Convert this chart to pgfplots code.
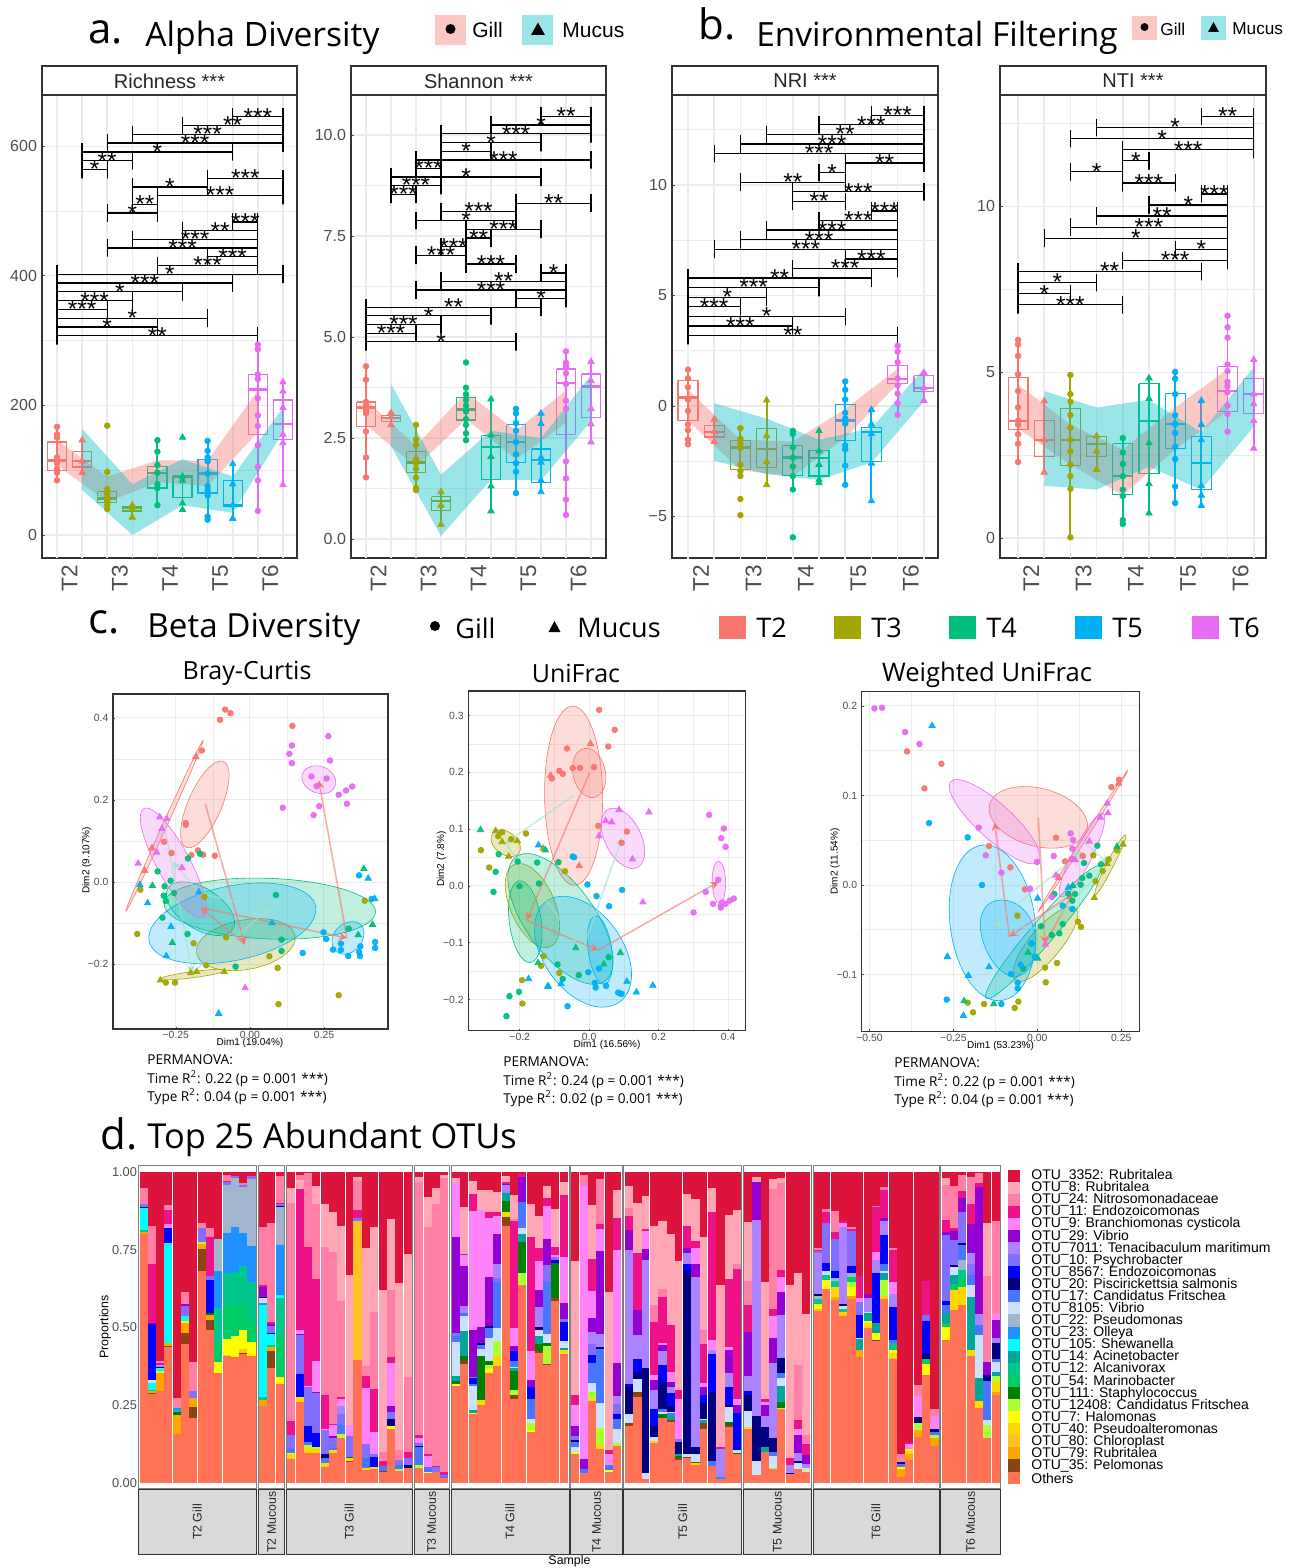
\documentclass[border=0pt]{standalone}
\usepackage{pgfplots}
\pgfplotsset{compat=1.18}
\usepackage{fontspec}
\setmainfont{Liberation Sans}
\newfontfamily\tf{Open Sans}
\definecolor{T2}{HTML}{F8766D}\definecolor{T3}{HTML}{A3A500}\definecolor{T4}{HTML}{00BF7D}\definecolor{T5}{HTML}{00B0F6}\definecolor{T6}{HTML}{E76BF3}
\definecolor{MU}{HTML}{00BFC4}\definecolor{AG}{HTML}{9FE3CE}
\definecolor{fr}{HTML}{333333}\definecolor{tg}{HTML}{4D4D4D}\definecolor{gl}{HTML}{EBEBEB}
\definecolor{ca}{HTML}{DC143C}\definecolor{cb}{HTML}{FFA7B5}\definecolor{cc}{HTML}{FF7FA6}\definecolor{cd}{HTML}{EE1289}\definecolor{ce}{HTML}{FF83FA}\definecolor{cf}{HTML}{9400D3}\definecolor{cg}{HTML}{AB82FF}\definecolor{ch}{HTML}{836FFF}\definecolor{ci}{HTML}{0000FF}\definecolor{cj}{HTML}{000080}\definecolor{ck}{HTML}{4876FF}\definecolor{cl}{HTML}{CAE1FF}\definecolor{cm}{HTML}{A2B5CD}\definecolor{cn}{HTML}{1E90FF}\definecolor{co}{HTML}{00FFFF}\definecolor{cp}{HTML}{00A69C}\definecolor{cq}{HTML}{00C78C}\definecolor{cr}{HTML}{00CD66}\definecolor{cs}{HTML}{008000}\definecolor{ct}{HTML}{ADFF2F}\definecolor{cu}{HTML}{FFFF00}\definecolor{cv}{HTML}{FFD700}\definecolor{cw}{HTML}{FFC125}\definecolor{cx}{HTML}{FFA500}\definecolor{cy}{HTML}{8B4513}\definecolor{cz}{HTML}{FF7256}
% ---------- stacked bars: per-colour segment lists
\foreach \n in {a,b,c,d,e,f,g,h,i,j,k,l,m,n,o,p,q,r,s,t,u,v,w,x,y,z}{\expandafter\gdef\csname LIST\n\endcsname{}}
\newcommand\facet[1]{\xdef\cxx{#1}}
\newcommand\BAR[1]{\pgfmathsetmacro\ccx{\cxx+4.15}\gdef\lo{0}\foreach\cn/\tp in {#1}{\expandafter\xdef\csname LIST\cn\endcsname{\csname LIST\cn\endcsname(\ccx,\lo)(\ccx,0\tp)(\ccx,nan)}\xdef\lo{0\tp}}\pgfmathsetmacro\nxx{\cxx+8.3}\xdef\cxx{\nxx}}
\facet{139.5}
\BAR{z/.80,x/.806,r/.813,o/.883,j/.886,h/.897,c/.95,a/1}
\BAR{z/.284,y/.288,x/.296,r/.30,o/.32,l/.33,j/.332,i/.51,f/.515,d/.704,c/.826,a/1}
\BAR{z/.296,x/.354,u/.358,o/.368,j/.373,g/.38,d/.385,c/.392,a/1}
\BAR{z/.438,y/.441,x/.45,o/.773,i/.82,e/.832,d/.878,c/.894,a/1}
\BAR{z/.157,x/.218,s/.228,q/.234,n/.24,c/.272,a/1}
\BAR{z/.447,y/.482,x/.513,u/.52,o/.537,h/.57,f/.575,c/.613,a/1}
\BAR{z/.208,y/.244,x/.274,h/.295,c/.387,a/1}
\BAR{z/.681,y/.752,x/.768,t/.774,h/.819,c/.836,a/1}
\BAR{z/.491,y/.524,x/.54,s/.545,i/.652,h/.665,d/.79,c/.819,a/1}
\BAR{z/.353,u/.388,r/.453,q/.561,n/.681,m/.786,a/1}
\BAR{z/.408,v/.412,u/.462,r/.572,q/.676,n/.803,m/.958,h/.967,d/.97,c/.99,a/1}
\BAR{z/.404,u/.472,r/.572,q/.679,n/.823,m/.982,h/.987,a/1}
\BAR{z/.414,y/.418,w/.432,u/.491,r/.572,q/.697,n/.803,m/.953,h/.958,c/.964,a/1}
\BAR{z/.408,u/.453,r/.524,q/.645,n/.762,m/.976,h/.987,a/1}
\facet{258.8}
\BAR{z/.248,x/.266,q/.275,o/.572,n/.58,l/.595,j/.599,f/.63,d/.636,c/.824,a/1}
\BAR{z/.369,y/.424,x/.438,q/.443,o/.479,j/.483,h/.504,f/.512,d/.518,c/.835,a/1}
\BAR{z/.319,u/.34,r/.472,q/.595,o/.604,n/.765,m/.886,j/.89,h/.896,d/.9,c/.987,a/1}
\facet{287}
\BAR{z/.076,v/.092,u/.096,k/.11,h/.153,d/.2,c/.899,b/.95,a/1}
\BAR{z/.261,v/.275,i/.35,h/.477,f/.48,e/.49,d/.945,b/.974,c/.99,a/1}
\BAR{z/.097,v/.113,t/.122,k/.132,i/.182,h/.309,e/.312,d/.76,c/.998,a/1}
\BAR{z/.097,v/.11,t/.116,i/.159,h/.288,f/.292,e/.393,d/.656,c/.897,b/.955,a/1}
\BAR{z/.052,v/.062,k/.078,j/.092,h/.17,e/.172,d/.282,c/.76,b/.897,a/1}
\BAR{z/.097,v/.105,k/.113,h/.143,f/.15,e/.186,d/.19,c/.744,b/.871,a/1}
\BAR{z/.143,t/.157,k/.186,h/.221,g/.247,e/.268,d/.275,c/.586,b/.826,a/1}
\BAR{z/.066,y/.069,v/.078,s/.083,h/.15,e/.186,b/.668,a/1}
\BAR{z/.395,w/.841,h/.851,d/.878,c/.972,b/.985,a/1}
\BAR{z/.041,v/.048,k/.078,h/.124,e/.306,d/.343,c/.376,b/.754,a/1}
\BAR{z/.043,v/.052,i/.082,h/.094,e/.164,d/.302,c/.55,b/.822,a/1}
\BAR{z/.035,y/.038,k/.054,d/.07,c/.1,b/.62,a/1}
\BAR{z/.172,u/.182,j/.204,h/.229,f/.247,e/.384,d/.406,c/.62,b/.849,a/1}
\BAR{z/.039,t/.043,k/.057,h/.073,c/.105,b/.642,a/1}
\BAR{z/.049,j/.057,h/.078,d/.1,c/.341,b/.736,a/1}
\facet{415}
\BAR{z/.049,t/.057,k/.114,j/.117,h/.129,e/.143,d/.153,c/.969,b/.985,a/1}
\BAR{z/.032,u/.036,k/.052,e/.086,d/.092,c/.822,b/.919,a/1}
\BAR{z/.035,h/.052,d/.054,c/.897,b/.949,a/1}
\BAR{z/.014,k/.021,h/.025,d/.035,c/.98,b/.99,a/1}
\facet{451.8}
\BAR{z/.311,u/.318,s/.328,p/.343,l/.454,k/.472,h/.481,f/.792,e/.964,b/.982,a/1}
\BAR{z/.382,y/.393,s/.408,p/.488,l/.536,k/.545,g/.569,f/.697,e/.733,d/.737,b/.888,a/1}
\BAR{z/.22,u/.225,p/.234,l/.311,k/.318,i/.337,h/.341,f/.491,e/.876,d/.929,b/.97,a/1}
\BAR{z/.25,v/.266,s/.409,l/.432,k/.443,j/.449,f/.502,e/.878,b/.942,a/1}
\BAR{z/.352,u/.368,t/.379,s/.393,l/.465,k/.499,j/.504,f/.663,e/.851,d/.872,b/.942,a/1}
\BAR{z/.376,v/.408,t/.457,l/.497,k/.647,h/.66,g/.703,f/.8,e/.859,d/.872,b/.935,a/1}
\BAR{z/.826,y/.856,v/.87,s/.908,p/.931,g/.958,f/.963,d/.968,b/.987,a/1}
\BAR{z/.269,y/.282,t/.298,s/.36,p/.368,l/.373,k/.393,i/.425,f/.44,e/.497,d/.843,c/.85,b/.926,a/1}
\BAR{z/.636,t/.676,s/.776,p/.8,l/.82,k/.904,f/.983,d/.995,a/1}
\BAR{z/.164,u/.169,t/.193,l/.204,k/.268,i/.309,f/.33,e/.424,d/.79,b/.897,a/1}
\BAR{z/.418,y/.423,s/.446,p/.472,l/.491,j/.5,g/.564,f/.62,e/.713,d/.757,b/.858,a/1}
\BAR{z/.379,y/.383,t/.44,s/.451,l/.48,k/.647,h/.701,f/.784,e/.891,d/.915,b/.955,a/1}
\BAR{z/.586,y/.595,s/.706,i/.716,h/.725,e/.732,d/.76,b/.88,a/1}
\BAR{z/.414,v/.427,p/.433,l/.457,i/.518,h/.527,f/.577,e/.725,d/.926,b/.967,a/1}
\facet{571}
\BAR{z/.092,u/.1,l/.116,k/.132,j/.138,h/.15,f/.182,e/.25,d/.282,b/.715,a/1}
\BAR{z/.032,k/.043,f/.077,e/.958,c/.99,a/1}
\BAR{z/.264,v/.269,t/.293,l/.322,k/.384,i/.411,h/.446,g/.486,f/.529,e/.617,d/.721,b/.894,a/1}
\BAR{z/.108,v/.121,t/.175,l/.255,k/.429,j/.437,g/.478,f/.747,e/.817,d/.833,c/.979,a/1}
\BAR{z/.035,u/.04,k/.057,e/.094,d/.105,b/.614,a/1}
\BAR{z/.119,t/.127,l/.172,k/.204,i/.221,h/.253,g/.279,f/.386,e/.749,d/.851,b/.942,a/1}
\facet{625}
\BAR{z/.183,y/.191,l/.221,j/.307,i/.318,g/.749,f/.813,d/.858,c/.884,b/.955,a/1}
\BAR{z/.277,y/.293,l/.333,j/.357,i/.398,g/.476,f/.556,d/.74,b/.899,a/1}
\BAR{z/.012,l/.03,j/.368,g/.717,f/.753,e/.81,d/.817,b/.923,a/1}
\BAR{z/.129,v/.133,l/.146,j/.182,i/.236,g/.3,f/.33,e/.347,d/.517,c/.572,b/.826,a/1}
\BAR{z/.209,s/.22,l/.229,k/.236,j/.325,i/.379,g/.424,f/.443,e/.45,d/.599,c/.623,b/.842,a/1}
\BAR{z/.196,y/.202,p/.216,k/.223,l/.229,j/.247,i/.29,g/.307,f/.324,e/.357,d/.508,b/.8,a/1}
\BAR{z/.073,y/.079,s/.085,p/.092,j/.132,h/.14,e/.269,d/.298,b/.714,a/1}
\BAR{z/.078,y/.082,l/.092,j/.681,i/.704,g/.74,f/.756,d/.826,b/.929,a/1}
\BAR{z/.057,v/.062,s/.068,l/.092,j/.116,g/.663,f/.704,e/.757,d/.779,b/.913,a/1}
\BAR{z/.173,y/.191,p/.202,l/.206,j/.255,i/.282,f/.309,e/.322,d/.446,c/.491,b/.79,a/1}
\BAR{z/.054,k/.07,j/.292,i/.414,g/.427,e/.459,d/.871,b/.947,a/1}
\BAR{z/.012,n/.018,g/.107,d/.115,b/.636,a/1}
\BAR{z/.18,y/.186,s/.196,l/.245,j/.25,i/.307,g/.352,f/.427,e/.438,d/.655,b/.862,a/1}
\BAR{z/.092,s/.097,l/.105,i/.223,f/.25,e/.268,d/.689,c/.704,b/.878,a/1}
\facet{744}
\BAR{z/.173,v/.18,l/.232,j/.282,i/.296,g/.343,f/.486,d/.572,c/.65,b/.839,a/1}
\BAR{z/.025,l/.071,j/.215,g/.845,f/.968,b/.983,a/1}
\BAR{z/.1,p/.114,j/.18,g/.215,f/.25,e/.261,d/.268,b/.646,a/1}
\BAR{z/.043,t/.049,l/.086,k/.1,j/.143,g/.384,f/.466,e/.536,d/.56,c/.946,b/.976,a/1}
\BAR{z/.236,t/.24,s/.26,p/.311,l/.337,k/.352,j/.4,g/.54,f/.614,e/.663,d/.685,c/.966,b/.98,a/1}
\BAR{z/.028,j/.032,g/.057,d/.078,b/.636,a/1}
\BAR{z/.044,l/.062,j/.07,g/.097,f/.153,e/.172,d/.202,c/.379,b/.674,a/1}
\BAR{z/.035,u/.039,l/.049,g/.06,f/.089,d/.124,c/.153,b/.543,a/1}
\facet{814}
\BAR{z/.554,w/.56,u/.575,q/.591,m/.6,j/.607,g/.738,h/.745,d/.75,c/.755,a/1}
\BAR{z/.622,u/.652,q/.668,l/.68,i/.706,h/.835,d/.871,c/.88,a/1}
\BAR{z/.588,x/.598,v/.629,q/.65,m/.658,i/.681,h/.783,d/.808,c/.873,a/1}
\BAR{z/.536,v/.55,q/.558,l/.568,j/.574,g/.822,e/.835,d/.842,a/1}
\BAR{z/.591,x/.602,u/.629,t/.647,r/.663,m/.676,i/.697,h/.81,d/.817,c/.823,a/1}
\BAR{z/.406,x/.427,p/.461,l/.465,i/.54,h/.583,e/.595,d/.666,a/1}
\BAR{z/.497,v/.515,u/.519,p/.545,l/.549,g/.593,f/.609,a/1}
\BAR{z/.457,y/.46,u/.481,p/.515,i/.674,g/.717,e/.744,d/.888,c/.892,a/1}
\BAR{z/.591,v/.602,t/.652,p/.674,l/.68,k/.703,i/.797,g/.843,f/.852,d/.942,c/.951,a/1}
\BAR{z/.398,v/.418,u/.427,q/.451,k/.459,i/.567,g/.609,e/.646,d/.749,c/.755,a/1}
\BAR{z/.019,x/.044,u/.052,k/.06,j/.068,c/.094,a/1}
\BAR{z/.073,x/.092,v/.102,u/.108,e/.125,d/.132,a/1}
\BAR{z/.148,x/.17,t/.191,j/.212,e/.279,c/.313,a/1}
\BAR{z/.347,u/.381,r/.397,j/.414,i/.52,h/.54,d/.65,a/1}
\BAR{z/.118,x/.143,t/.153,k/.164,j/.172,e/.215,c/.236,a/1}
\facet{941.7}
\BAR{z/.459,u/.5,r/.515,p/.547,k/.572,i/.585,h/.797,f/.808,d/.845,c/.958,b/.98,a/1}
\BAR{z/.556,v/.62,r/.638,p/.668,l/.693,j/.7,h/.781,f/.811,d/.819,c/.955,a/1}
\BAR{z/.572,v/.631,r/.658,q/.684,m/.717,k/.765,j/.77,h/.87,f/.915,d/.94,c/.989,a/1}
\BAR{z/.408,v/.427,p/.598,l/.636,k/.668,h/.704,g/.738,f/.833,d/.897,c/.983,a/1}
\BAR{z/.241,v/.264,p/.338,l/.475,k/.508,g/.543,f/.951,d/.966,c/.996,a/1}
\BAR{z/.143,t/.186,l/.202,k/.327,j/.347,f/.387,c/.665,b/.835,a/1}
\BAR{z/.282,x/.293,v/.325,t/.343,p/.357,l/.39,k/.398,j/.451,g/.465,f/.524,e/.543,c/.842,a/1}
\newcommand\plotc[1]{\edef\tmp{\noexpand\addplot[draw=c#1,barl] coordinates {\csname LIST#1\endcsname};}\tmp}
% ---------- panel helpers
\tikzset{st/.style={anchor=base,inner sep=0pt,yshift=-4.2pt,font=\fontsize{12.2}{12}\selectfont}}
\pgfplotsset{
 brk/.style={black,line width=.65pt,no marks},
 vg/.style={gl,line width=.8pt,no marks},
 gp/.style={mark=*,mark size=1.4pt,draw=none,mark options={draw=none}},
 mp/.style={mark=triangle*,mark size=1.8pt,draw=none,mark options={draw=none}},
 barl/.style={line width=4.15pt,line cap=butt,no marks,unbounded coords=jump},
 tp/.style={scale only axis,axis line style={draw=fr,line width=.6pt},
   xtick={1.5,3.5,5.5,7.5,9.5},xticklabels={T2,T3,T4,T5,T6},
   x tick label style={rotate=90,anchor=east,font=\fontsize{11.3}{12}\selectfont,text=tg},
   y tick label style={font=\fontsize{8}{9}\selectfont,text=tg,xshift=1pt},
   x tick style={draw=none},y tick style={draw=tg,line width=.4pt},major tick length=1.5pt,minor tick length=0pt,
   xtick pos=bottom,ytick pos=left,ymajorgrids=true,yminorgrids=true,
   major grid style={gl,line width=.6pt},minor grid style={gl,line width=.3pt},
   height=231.5pt},
 pc/.style={scale only axis,axis line style={draw=fr,line width=.6pt},
   x tick label style={font=\fontsize{5.2}{6}\selectfont,text=tg,yshift=2.2pt},
   y tick label style={font=\fontsize{5.2}{6}\selectfont,text=tg,xshift=1.2pt},
   tick style={draw=tg,line width=.3pt},major tick length=1pt,minor tick length=0pt,
   xtick pos=bottom,ytick pos=left,grid=both,
   major grid style={gl,line width=.5pt},minor grid style={gl,line width=.3pt},
   minor tick num=1},
 pcl/.style n args={4}{every axis x label/.style={at={(axis description cs:#1,#2)},anchor=center,font=\fontsize{5}{6}\selectfont},
   every axis y label/.style={at={(axis description cs:#3,#4)},rotate=90,anchor=center,font=\fontsize{5}{6}\selectfont}},
}
\newcommand\vgrid{\pgfplotsinvokeforeach{1,...,10}{\addplot[vg] coordinates {(##1,3000)(##1,-2000)};}}
\newcommand\br[4]{\pgfmathsetmacro\ya{#3-23}\pgfmathsetmacro\yb{#3+23}\edef\tmp{\noexpand\addplot[brk] coordinates {(#1,\ya)(#1,\yb)(#1,#3)(#2,#3)(#2,\yb)(#2,\ya)}}\tmp node[pos=0.5,st]{#4};}
% box: p colour q3 med q1 whiskerTop whiskerBottom (image-read levels, converted by the axis y filter)
\newcommand\bx[7]{\pgfmathsetmacro\xl{#1-.38}\pgfmathsetmacro\xr{#1+.38}%
 \edef\tmp{\noexpand\addplot[#2,line width=.95pt,no marks] coordinates {(#1,#6)(#1,#7)};}\tmp
 \edef\tmp{\noexpand\addplot[#2,line width=.6pt,no marks] coordinates {(\xl,#3)(\xr,#3)(\xr,#5)(\xl,#5)(\xl,#3)};}\tmp
 \edef\tmp{\noexpand\addplot[#2,line width=1.2pt,no marks] coordinates {(\xl,#4)(\xr,#4)};}\tmp}
\newcommand\vp[4]{\gdef\cl{}\foreach \v in {#4}{\xdef\cl{\cl(#1,\v)}}\edef\tmp{\noexpand\addplot[only marks,#3,color=#2] coordinates {\cl};}\tmp}
\newcommand\rib[2]{\addplot[draw=none,fill=#1,fill opacity=.4,no marks] coordinates {#2} --cycle;}
\newcommand\el[2]{\addplot[fill=#1,draw=#1,fill opacity=.25,line width=.3pt,no marks,smooth cycle,tension=1] coordinates {#2};}
\newcommand\ar[5]{\addplot[#1,->,>=stealth,line width=.8pt,draw opacity=.6,no marks] coordinates {(#2,#3)(#4,#5)};}
\newcommand\ppts[3]{\addplot[only marks,#2,color=#1,mark options={draw=none,fill opacity=.95}] coordinates {#3};}
\newcommand\tfs[2]{\fontsize{#1}{#2}\selectfont}
\begin{document}
\begin{tikzpicture}[x=0.5pt,y=-0.5pt]
\path[use as bounding box] (0,0) rectangle (1295,1568);
% ================= RICHNESS
\begin{axis}[tp,at={(21pt,-279pt)},anchor=south west,width=127.5pt,xmin=.402,xmax=10.56,ymin=-35.5,ymax=679,
 ytick={0,200,400,600},yticklabels={0,200,400,600},minor ytick={100,300,500},y filter/.expression={(1398-y)/1.695}]
\vgrid
\br{8}{10}{304}{***}\br{6}{10}{327}{**}\br{4}{10}{350}{***}\br{3}{10}{373}{***}\br{2}{8}{396}{*}\br{2}{4}{419}{**}\br{2}{3}{442}{*}
\br{7}{10}{465}{***}\br{4}{7}{488}{*}\br{5}{10}{510}{***}\br{4}{5}{533}{**}\br{3}{5}{556}{*}
\br{8}{9}{579}{***}\br{6}{9}{602}{**}\br{4}{9}{625}{***}\br{3}{9}{647}{***}\br{7}{9}{670}{***}\br{5}{9}{693}{***}
\br{1}{10}{716}{*}\br{1}{8}{739}{***}\br{1}{6}{762}{*}\br{1}{4}{785}{***}\br{1}{3}{808}{***}\br{1}{7}{831}{*}\br{1}{5}{854}{*}\br{1}{9}{877}{**}
\vp{1}{T2}{gp}{1115,1135,1143,1195,1203,1210,1225,1235,1255}\vp{2}{T2}{mp}{1150,1235,1205}
\vp{3}{T3}{gp}{1112,1233,1278,1290,1300,1310,1320,1330}\vp{4}{T3}{mp}{1320,1352,1330}
\vp{5}{T4}{gp}{1150,1180,1215,1235,1265,1275,1320}\vp{6}{T4}{mp}{1143,1255,1245,1315,1332}
\vp{7}{T5}{gp}{1152,1178,1195,1205,1238,1270,1280,1295,1350,1358}\vp{8}{T5}{mp}{1212,1265,1320,1355}
\vp{9}{T6}{gp}{900,912,978,990,1040,1085,1113,1163,1220,1255,1335}\vp{10}{T6}{mp}{998,1022,1065,1135,1157,1267}
\bx{1}{T2}{1155}{1203}{1230}{1115}{1260}\bx{2}{T2}{1180}{1205}{1220}{1150}{1235}
\bx{3}{T3}{1285}{1303}{1313}{1275}{1332}\bx{4}{T3}{1323}{1328}{1335}{1318}{1352}
\bx{5}{T4}{1218}{1236}{1275}{1150}{1322}\bx{6}{T4}{1243}{1247}{1300}{1243}{1332}
\bx{7}{T5}{1200}{1237}{1288}{1152}{1360}\bx{8}{T5}{1255}{1320}{1323}{1210}{1355}
\bx{9}{T6}{978}{1017}{1136}{900}{1335}\bx{10}{T6}{1045}{1108}{1148}{998}{1267}
\rib{T2}{(1,1150)(3,1245)(5,1203)(7,1203)(9,1020)(9,1130)(7,1270)(5,1260)(3,1312)(1,1215)}
\rib{MU}{(2,1120)(4,1265)(6,1200)(8,1245)(10,1065)(10,1130)(8,1340)(6,1320)(4,1398)(2,1280)}
\end{axis}
% ================= SHANNON
\begin{axis}[tp,at={(175.5pt,-279pt)},anchor=south west,width=127.5pt,xmin=.4,xmax=10.6,ymin=-.47,ymax=10.99,
 ytick={0,2.5,5,7.5,10},yticklabels={0.0,2.5,5.0,7.5,10.0},minor ytick={1.25,3.75,6.25,8.75},y filter/.expression={(1408-y)/105.5}]
\vgrid
\br{8}{10}{304}{**}\br{6}{10}{327}{*}\br{4}{10}{350}{***}\br{4}{8}{373}{*}\br{4}{6}{396}{*}\br{3}{10}{418}{***}\br{3}{4}{440}{***}\br{2}{8}{463}{*}\br{2}{4}{485}{***}\br{2}{3}{508}{***}
\br{7}{10}{531}{**}\br{4}{7}{553}{***}\br{3}{7}{576}{*}\br{5}{8}{599}{***}\br{5}{6}{622}{**}\br{4}{5}{645}{***}\br{3}{5}{667}{***}\br{5}{7}{690}{***}
\br{8}{9}{713}{*}\br{4}{9}{735}{**}\br{3}{9}{758}{***}\br{7}{9}{780}{*}\br{1}{8}{803}{**}\br{1}{6}{825}{*}\br{1}{4}{848}{***}\br{1}{3}{871}{***}\br{1}{7}{893}{*}
\vp{1}{T2}{gp}{957,992,1050,1060,1072,1080,1127,1195,1247}\vp{2}{T2}{mp}{1078,1090,1110}
\vp{3}{T3}{gp}{1110,1148,1162,1200,1210,1225,1248,1275,1280}\vp{4}{T3}{mp}{1285,1320,1370}
\vp{5}{T4}{gp}{947,1013,1030,1045,1060,1075,1095,1110,1132,1150}\vp{6}{T4}{mp}{1043,1137,1193,1270,1335}
\vp{7}{T5}{gp}{1068,1080,1105,1125,1155,1187,1210,1232,1288}\vp{8}{T5}{mp}{1080,1107,1195,1208,1255,1285}
\vp{9}{T6}{gp}{918,948,958,975,1003,1047,1068,1205,1250,1305,1345}\vp{10}{T6}{mp}{945,995,1068,1108,1155}
\bx{1}{T2}{1050}{1065}{1115}{957}{1247}\bx{2}{T2}{1085}{1092}{1102}{1075}{1110}
\bx{3}{T3}{1180}{1208}{1234}{1110}{1280}\bx{4}{T3}{1297}{1308}{1333}{1285}{1370}
\bx{5}{T4}{1038}{1070}{1097}{1013}{1150}\bx{6}{T4}{1138}{1167}{1253}{1043}{1335}
\bx{7}{T5}{1110}{1155}{1208}{1068}{1288}\bx{8}{T5}{1173}{1201}{1261}{1080}{1285}
\bx{9}{T6}{964}{1000}{1135}{918}{1345}\bx{10}{T6}{977}{1010}{1090}{945}{1155}
\rib{T2}{(1,1045)(3,1165)(5,1025)(7,1125)(9,1020)(9,1105)(7,1200)(5,1095)(3,1220)(1,1110)}
\rib{MU}{(2,1003)(4,1240)(6,1125)(8,1145)(10,980)(10,1100)(8,1255)(6,1253)(4,1400)(2,1165)}
\end{axis}
% ================= NRI
\begin{axis}[tp,at={(336pt,-279pt)},anchor=south west,width=133pt,xmin=.39,xmax=10.54,ymin=-6.88,ymax=14.07,
 ytick={-5,0,5,10},yticklabels={−5,0,5,10},minor ytick={-2.5,2.5,7.5,12.5},y filter/.expression={(1062-y)/57.7}]
\vgrid
\br{8}{10}{303}{***}\br{6}{10}{328}{***}\br{4}{10}{353}{**}\br{3}{10}{378}{***}\br{2}{10}{403}{***}\br{7}{10}{428}{**}\br{6}{7}{453}{*}\br{3}{7}{478}{**}\br{5}{10}{503}{***}\br{5}{7}{528}{**}
\br{8}{9}{553}{***}\br{6}{9}{578}{***}\br{4}{9}{603}{***}\br{3}{9}{628}{***}\br{2}{9}{653}{***}\br{7}{9}{678}{***}\br{5}{9}{703}{***}
\br{1}{8}{728}{**}\br{1}{6}{753}{***}\br{1}{4}{778}{*}\br{1}{3}{803}{***}\br{1}{7}{828}{*}\br{1}{5}{853}{***}\br{1}{9}{878}{**}
\vp{1}{T2}{gp}{967,990,1013,1045,1075,1110,1125,1150,1162}\vp{2}{T2}{mp}{1097,1155,1130}
\vp{3}{T3}{gp}{1120,1148,1160,1172,1215,1232,1245,1305,1347}\vp{4}{T3}{mp}{1047,1140,1208,1268}
\vp{5}{T4}{gp}{1127,1135,1170,1197,1220,1245,1280,1405}\vp{6}{T4}{mp}{1127,1180,1215,1255,1263}
\vp{7}{T5}{gp}{998,1020,1045,1080,1095,1108,1165,1175,1218,1268}\vp{8}{T5}{mp}{1072,1110,1135,1212,1310}
\vp{9}{T6}{gp}{905,920,948,990,1008,1030,1055,1085}\vp{10}{T6}{mp}{975,1015,1048}
\bx{1}{T2}{995}{1040}{1100}{967}{1162}\bx{2}{T2}{1113}{1130}{1143}{1095}{1155}
\bx{3}{T3}{1152}{1170}{1228}{1120}{1245}\bx{4}{T3}{1120}{1175}{1222}{1047}{1268}
\bx{5}{T4}{1166}{1197}{1243}{1127}{1280}\bx{6}{T4}{1178}{1198}{1245}{1127}{1263}
\bx{7}{T5}{1058}{1100}{1152}{998}{1268}\bx{8}{T5}{1118}{1130}{1207}{1072}{1310}
\bx{9}{T6}{956}{992}{1004}{905}{1085}\bx{10}{T6}{983}{1015}{1025}{970}{1048}
\rib{T2}{(1,1020)(3,1150)(5,1155)(7,1070)(9,965)(9,1005)(7,1145)(5,1245)(3,1230)(1,1100)}
\rib{MU}{(2,1055)(4,1095)(6,1150)(8,1120)(10,965)(10,1050)(8,1210)(6,1255)(4,1240)(2,1205)}
\end{axis}
% ================= NTI
\begin{axis}[tp,at={(500pt,-279pt)},anchor=south west,width=133pt,xmin=.31,xmax=10.47,ymin=-.6,ymax=13.35,
 ytick={0,5,10},yticklabels={0,5,10},minor ytick={2.5,7.5,12.5},y filter/.expression={(1407-y)/86.9}]
\vgrid
\br{8}{10}{303}{**}\br{4}{10}{332}{*}\br{3}{10}{361}{*}\br{5}{10}{390}{***}\br{5}{6}{419}{*}\br{3}{5}{448}{*}\br{5}{7}{477}{***}\br{8}{9}{506}{***}\br{6}{9}{535}{*}
\br{4}{9}{564}{**}\br{3}{9}{593}{***}\br{2}{9}{622}{*}\br{7}{9}{651}{*}\br{5}{9}{680}{***}\br{1}{8}{709}{**}\br{1}{4}{738}{*}\br{1}{3}{767}{*}\br{1}{5}{796}{***}
\vp{1}{T2}{gp}{888,900,930,978,1022,1065,1100,1110,1135,1160,1208}\vp{2}{T2}{mp}{1048,1150,1235}
\vp{3}{T3}{gp}{980,1030,1050,1085,1118,1150,1180,1215,1245,1278,1405}\vp{4}{T3}{mp}{1140,1180,1228}
\vp{5}{T4}{gp}{1145,1183,1213,1245,1280,1297,1360,1370}\vp{6}{T4}{mp}{988,1042,1158,1265,1342}
\vp{7}{T5}{gp}{972,990,1030,1085,1108,1132,1168,1200,1272,1315}\vp{8}{T5}{mp}{1047,1110,1150,1270,1295,1322}
\vp{9}{T6}{gp}{825,855,882,952,970,998,1010,1025,1060,1082,1128}\vp{10}{T6}{mp}{940,1030,1056,1100,1172}
\bx{1}{T2}{987}{1100}{1122}{888}{1208}\bx{2}{T2}{1100}{1150}{1193}{1048}{1235}
\bx{3}{T3}{1067}{1150}{1217}{980}{1405}\bx{4}{T3}{1140}{1160}{1194}{1138}{1228}
\bx{5}{T4}{1160}{1245}{1292}{1145}{1370}\bx{6}{T4}{1003}{1100}{1238}{988}{1342}
\bx{7}{T5}{1028}{1108}{1172}{972}{1315}\bx{8}{T5}{1140}{1210}{1280}{1047}{1322}
\bx{9}{T6}{958}{1022}{1075}{825}{1132}\bx{10}{T6}{990}{1030}{1080}{938}{1172}
\rib{T2}{(1,1005)(3,1110)(5,1175)(7,1065)(9,965)(9,1075)(7,1175)(5,1295)(3,1215)(1,1120)}
\rib{MU}{(2,1022)(4,1065)(6,1045)(8,1130)(10,960)(10,1115)(8,1280)(6,1220)(4,1280)(2,1270)}
\end{axis}
% strips
\foreach \a/\b/\t in {42/297/{Richness ***},351/606/{Shannon ***},672/938/{NRI ***},1000/1266/{NTI ***}}{
 \draw[fr,line width=.6pt,fill=white] (\a,66) rectangle (\b,95);
 \node[text=black!85,font=\tfs{10}{11}] at ({(\a+\b)/2},81) {\t};}
% ================= BRAY-CURTIS
\begin{axis}[pc,pcl={.498}{-.042}{-.095}{.504},at={(56.5pt,-514.5pt)},anchor=south west,width=137.5pt,height=167.5pt,xmin=-.462,xmax=.466,ymin=-.358,ymax=.458,
 x filter/.expression={(x-393)/684},y filter/.expression={(725-y)/1233},
 xtick={-.25,0,.25},xticklabels={−0.25,0.00,0.25},ytick={-.2,0,.2,.4},yticklabels={−0.2,0.0,0.2,0.4},
 xlabel={Dim1 (19.04\%)},ylabel={Dim2 (9.107\%)}]
\ppts{T2}{gp}{(336,207)(348,218)(324,238)(491,256)(282,330)(245,548)(245,553)(195,604)(212,638)(258,644)(273,630)(285,643)(312,646)}
\ppts{T2}{mp}{(268,349)(167,623)(150,691)}
\ppts{T3}{gp}{(140,748)(133,881)(263,909)(292,975)(338,891)(438,948)(457,983)(220,1027)(199,1027)(598,1065)(459,1092)(658,781)(288,769)}
\ppts{T3}{mp}{(186,1020)(256,998)(270,994)(334,995)}
\ppts{T4}{gp}{(250,654)(180,693)(210,721)(196,738)(194,766)(199,782)(218,758)(191,832)(249,881)(360,979)(466,898)(466,932)(621,865)(453,764)(278,640)}
\ppts{T4}{mp}{(168,736)(656,685)(643,884)(676,853)(214,907)}
\ppts{T5}{gp}{(645,705)(674,776)(563,876)(569,896)(603,910)(585,928)(603,929)(620,947)(645,935)(647,947)(648,918)(682,905)(682,923)(515,938)}
\ppts{T5}{mp}{(139,733)(157,788)(211,859)(200,947)(321,1120)(666,714)(681,775)(444,848)(275,755)}
\ppts{T6}{gp}{(490,315)(484,340)(490,368)(574,287)(578,360)(535,408)(570,414)(547,437)(629,438)(615,450)(598,463)(617,490)(553,497)(540,524)(469,502)}
\ppts{T6}{mp}{(185,530)(201,535)(190,565)(178,636)(135,669)(236,682)(382,1043)}
\el{T2}{(330,362)(327,504)(248,622)(251,480)}
\el{T2}{(285,300)(201,558)(107,812)(191,554)}
\el{T3}{(270,940)(372,840)(497,885)(395,986)}
\el{T3}{(187,1016)(260,994)(337,990)(264,1012)}
\el{T4}{(195,790)(440,714)(683,815)(436,896)}
\el{T4}{(210,735)(317,765)(348,875)(241,845)}
\el{T5}{(160,885)(364,733)(545,815)(340,965)}
\el{T5}{(590,930)(597,862)(650,855)(640,925)}
\el{T6}{(530,380)(584,400)(575,456)(520,435)}
\el{T6}{(150,503)(253,653)(283,833)(179,683)}
\ar{T2}{290}{490}{381}{912}\ar{T2}{381}{912}{280}{802}\ar{T2}{280}{802}{617}{893}\ar{T2}{617}{893}{552}{420}
\ar{AG}{196}{560}{260}{998}\ar{AG}{260}{998}{438}{805}\ar{AG}{438}{805}{278}{760}\ar{AG}{278}{760}{215}{665}
\end{axis}
% ================= UNIFRAC
\begin{axis}[pc,pcl={.5}{-.042}{-.0965}{.505},at={(234.15pt,-515.35pt)},anchor=south west,width=138.75pt,height=169.85pt,xmin=-.348,xmax=.451,ymin=-.255,ymax=.343,
 x filter/.expression={(x-1176)/802},y filter/.expression={(737-y)/1704},
 xtick={-.2,0,.2,.4},xticklabels={−0.2,0.0,0.2,0.4},ytick={-.2,-.1,0,.1,.2,.3},yticklabels={−0.2,−0.1,0.0,0.1,0.2,0.3},
 xlabel={Dim1 (16.56\%)},ylabel={Dim2 (7.8\%)}]
\ppts{T2}{gp}{(1199,209)(1235,269)(1220,319)(1125,325)(1138,384)(1155,383)(1187,381)(1107,392)(1115,401)(1090,415)(1197,557)(1263,574)(1251,608)}
\ppts{T2}{mp}{(1179,311)(1087,406)(1153,677)}
\ppts{T3}{gp}{(926,630)(966,588)(975,576)(1030,580)(996,597)(945,682)(1120,693)(1071,948)(1065,977)(1107,998)(1021,1020)(1022,1090)}
\ppts{T3}{mp}{(960,572)(975,605)(1010,602)(990,649)(1070,625)}
\ppts{T4}{gp}{(967,642)(960,695)(955,755)(1011,664)(1015,738)(1060,730)(1056,667)(1105,666)(1103,973)(1115,1016)(1152,1005)(1221,951)(992,1068)(1014,1055)(985,1128)}
\ppts{T4}{mp}{(925,569)(1075,630)(1145,923)(1248,938)(1210,972)(1058,968)(1081,1040)}
\ppts{T5}{gp}{(1172,733)(1193,768)(1252,749)(1222,798)(1138,649)(1141,651)(1199,985)(1174,996)(1189,1028)(1191,1042)(1215,1037)(1243,1057)(1251,1061)(1248,1060)(1126,1098)}
\ppts{T5}{mp}{(1059,615)(1036,1016)(1111,1031)(1263,1024)(1323,1036)(1285,1056)(1081,1037)}
\ppts{T6}{gp}{(1453,524)(1487,565)(1481,594)(1491,620)(1474,719)(1445,755)(1417,817)(1462,791)(1480,802)(1483,787)(1491,791)(1501,781)(1510,775)(1480,798)}
\ppts{T6}{mp}{(1245,509)(1314,516)(1214,542)(1228,546)(1199,587)(1276,657)(1300,786)}
\el{T2}{(1139,198)(1207,470)(1141,735)(1073,462)}
\el{T2}{(1165,325)(1213,390)(1187,472)(1139,406)}
\el{T3}{(1010,670)(1097,785)(1080,922)(993,805)}
\el{T3}{(965,570)(1011,600)(1003,648)(955,618)}
\el{T4}{(1005,652)(1170,770)(1215,1020)(1048,905)}
\el{T4}{(1015,722)(1065,840)(1040,967)(992,850)}
\el{T5}{(1095,772)(1252,900)(1228,1097)(1072,970)}
\el{T5}{(1190,828)(1228,925)(1212,1032)(1174,935)}
\el{T6}{(1475,663)(1491,725)(1477,790)(1460,725)}
\el{T6}{(1225,505)(1295,580)(1283,684)(1213,608)}
\ar{T2}{1177}{398}{1032}{840}\ar{T2}{1032}{840}{1197}{930}\ar{T2}{1197}{930}{1475}{725}
\ar{AG}{1140}{466}{983}{609}\ar{AG}{983}{609}{1160}{932}\ar{AG}{1160}{932}{1252}{592}
\end{axis}
% ================= WEIGHTED UNIFRAC
\begin{axis}[pc,pcl={.5}{-.044}{-.096}{.5},at={(430.85pt,-515.65pt)},anchor=south west,width=138.8pt,height=169.8pt,xmin=-.523,xmax=.3036,ymin=-.1634,ymax=.2159,
 x filter/.expression={(x-772)/1008},y filter/.expression={(735-y)/2687},
 xtick={-.5,-.25,0,.25},xticklabels={−0.50,−0.25,0.00,0.25},ytick={-.1,0,.1,.2},yticklabels={−0.1,0.0,0.1,0.2},
 xlabel={Dim1 (53.23\%)},ylabel={Dim2 (11.54\%)}]
\ppts{T2}{gp}{(381,334)(484,371)(433,445)(1017,419)(994,441)(828,593)(908,648)(855,664)(875,657)(627,618)(691,682)(735,748)}
\ppts{T2}{mp}{(1016,430)(836,713)}
\ppts{T3}{gp}{(940,646)(986,658)(968,693)(947,724)(1011,631)(894,845)(903,861)(831,969)(795,983)(797,1027)(563,1088)(612,1092)(579,1117)(704,1104)(715,1085)(712,827)}
\ppts{T3}{mp}{(981,671)(1029,613)(943,773)}
\ppts{T4}{gp}{(952,617)(912,669)(963,673)(928,707)(907,714)(902,734)(823,762)(865,761)(885,762)(877,782)(848,852)(838,880)(815,885)(783,859)(754,911)(764,950)(730,986)}
\ppts{T4}{mp}{(1011,620)(878,737)(744,937)(773,955)(552,1083)(641,1092)}
\ppts{T5}{gp}{(447,549)(563,592)(606,735)(848,797)(877,807)(755,910)(765,950)(722,974)(693,1002)(713,1028)(713,1045)(500,1079)(664,1092)}
\ppts{T5}{mp}{(456,257)(502,950)(565,1007)(627,981)(773,775)(865,742)(550,1127)}
\ppts{T6}{gp}{(283,205)(306,203)(375,276)(418,312)(596,563)(617,646)(771,666)(664,698)(750,746)(816,771)(821,648)(872,580)(879,600)(877,626)(875,658)}
\ppts{T6}{mp}{(982,490)(984,519)(961,532)(928,604)(886,660)(828,706)(796,913)}
\el{T2}{(628,515)(760,441)(922,548)(790,623)}
\el{T2}{(775,815)(905,600)(1043,392)(913,606)}
\el{T3}{(705,1020)(760,880)(888,805)(828,945)}
\el{T3}{(945,765)(982,666)(1037,585)(1000,678)}
\el{T4}{(618,1075)(765,850)(962,678)(815,900)}
\el{T5}{(610,615)(765,840)(660,1082)(510,855)}
\el{T5}{(665,780)(765,880)(705,1010)(603,880)}
\el{T6}{(512,425)(680,505)(775,665)(610,585)}
\el{T6}{(970,520)(930,665)(842,770)(880,635)}
\ar{T2}{775}{532}{795}{912}\ar{T2}{795}{912}{877}{762}\ar{T2}{877}{762}{688}{890}\ar{T2}{688}{890}{644}{548}
\ar{AG}{910}{605}{985}{670}\ar{AG}{985}{670}{795}{868}\ar{AG}{795}{868}{640}{850}\ar{AG}{640}{850}{907}{635}
\end{axis}
% ================= STACKED BARS
\begin{axis}[scale only axis,at={(69pt,-744.15pt)},anchor=south west,width=431.5pt,height=161.5pt,clip=false,
 xmin=138,xmax=1001,ymin=-.018,ymax=1.0216,axis line style={draw=none},xtick=\empty,
 ytick={0,.25,.5,.75,1},yticklabels={0.00,0.25,0.50,0.75,1.00},ytick pos=left,
 y tick label style={font=\tfs{6.4}{7},text=tg,xshift=3pt},tick style={draw=none},
 ylabel={Proportions},xlabel={Sample},
 every axis x label/.style={at={(axis description cs:.5,-.225)},anchor=center,font=\tfs{6.2}{7}},every axis y label/.style={at={(axis description cs:-.038,.5)},rotate=90,anchor=center,font=\tfs{6.2}{7}}]
\plotc{a}\plotc{b}\plotc{c}\plotc{d}\plotc{e}\plotc{f}\plotc{g}\plotc{h}\plotc{i}\plotc{j}\plotc{k}\plotc{l}\plotc{m}\plotc{n}\plotc{o}\plotc{p}\plotc{q}\plotc{r}\plotc{s}\plotc{t}\plotc{u}\plotc{v}\plotc{w}\plotc{x}\plotc{y}\plotc{z}
\addplot[white,line width=.5pt,no marks,unbounded coords=jump] coordinates {(172.3,0)(172.3,1)(172.3,nan)(197.3,0)(197.3,1)(197.3,nan)(222.7,0)(222.7,1)(222.7,nan)(275.3,0)(275.3,1)(275.3,nan)(295.3,0)(295.3,1)(295.3,nan)(320.3,0)(320.3,1)(320.3,nan)(345.3,0)(345.3,1)(345.3,nan)(378.7,0)(378.7,1)(378.7,nan)(403.7,0)(403.7,1)(403.7,nan)(423.3,0)(423.3,1)(423.3,nan)(468.3,0)(468.3,1)(468.3,nan)(501.7,0)(501.7,1)(501.7,nan)(526.3,0)(526.3,1)(526.3,nan)(559.3,0)(559.3,1)(559.3,nan)(579.3,0)(579.3,1)(579.3,nan)(604.7,0)(604.7,1)(604.7,nan)(649.3,0)(649.3,1)(649.3,nan)(682.3,0)(682.3,1)(682.3,nan)(707.3,0)(707.3,1)(707.3,nan)(785.3,0)(785.3,1)(785.3,nan)(830.3,0)(830.3,1)(830.3,nan)(863.3,0)(863.3,1)(863.3,nan)(888.3,0)(888.3,1)(888.3,nan)(913.3,0)(913.3,1)(913.3,nan)(966.3,0)(966.3,1)(966.3,nan)(991.7,0)(991.7,1)(991.7,nan)};
\foreach \xa/\xb in {138.3/256.3,258/284.7,286.3/412.7,414.3/449.3,451/569,570.3/622,623.3/741.7,743.3/811,813/939.3,940.7/1000.7}{
 \edef\tmp{\noexpand\addplot[draw=gray,line width=.4pt,no marks] coordinates {(\xa,-.018)(\xb,-.018)(\xb,1.0216)(\xa,1.0216)(\xa,-.018)};}\tmp
 \edef\tmp{\noexpand\addplot[draw=fr,line width=.5pt,fill=black!15,no marks] coordinates {(\xa,-.0207)(\xb,-.0207)(\xb,-.2295)(\xa,-.2295)(\xa,-.0207)};}\tmp}
\end{axis}
\foreach \x/\t in {197.3/T2 Gill,271.7/T2 Mucous,349.3/T3 Gill,431.7/T3 Mucous,510/T4 Gill,596.7/T4 Mucous,682.7/T5 Gill,777.3/T5 Mucous,876/T6 Gill,970.7/T6 Mucous}
 \node[rotate=90,font=\tfs{6.2}{7},text=black!85] at (\x,1522) {\t};
% bar legend
\foreach \cn/\tx [count=\i from 0] in {a/OTU\_3352: Rubritalea,b/OTU\_8: Rubritalea,c/OTU\_24: Nitrosomonadaceae,d/OTU\_11: Endozoicomonas,e/OTU\_9: Branchiomonas cysticola,f/OTU\_29: Vibrio,g/OTU\_7011: Tenacibaculum maritimum,h/OTU\_10: Psychrobacter,i/OTU\_8567: Endozoicomonas,j/OTU\_20: Piscirickettsia salmonis,k/OTU\_17: Candidatus Fritschea,l/OTU\_8105: Vibrio,m/OTU\_22: Pseudomonas,n/OTU\_23: Olleya,o/OTU\_105: Shewanella,p/OTU\_14: Acinetobacter,q/OTU\_12: Alcanivorax,r/OTU\_54: Marinobacter,s/OTU\_111: Staphylococcus,t/OTU\_12408: Candidatus Fritschea,u/OTU\_7: Halomonas,v/OTU\_40: Pseudoalteromonas,w/OTU\_80: Chloroplast,x/OTU\_79: Rubritalea,y/OTU\_35: Pelomonas,z/Others}{
 \fill[fill=c\cn] (1008,{1169.5+12.08*\i}) rectangle +(12,12.08);
 \node[anchor=west,inner sep=0pt,font=\tfs{7}{8}] at (1031,{1176+12.08*\i}) {\tx};}
% ================= TITLES AND TOP LEGENDS
\node[anchor=west,inner sep=0,font=\tf\tfs{21}{22}] at (88,32) {a.};
\node[anchor=west,inner sep=0,font=\tf\tfs{16.8}{18}] at (145,37.5) {Alpha Diversity};
\node[anchor=west,inner sep=0,font=\tf\tfs{21}{22}] at (698,24) {b.};
\node[anchor=west,inner sep=0,font=\tf\tfs{16.7}{18}] at (756,37.5) {Environmental Filtering};
\node[anchor=west,inner sep=0,font=\tf\tfs{21}{22}] at (88,622) {c.};
\node[anchor=west,inner sep=0,font=\tf\tfs{16.6}{18}] at (147,629) {Beta Diversity};
\node[anchor=west,inner sep=0,font=\tf\tfs{21}{22}] at (100,1134) {d.};
\node[anchor=west,inner sep=0,font=\tf\tfs{17.2}{18}] at (147,1140) {Top 25 Abundant OTUs};
\fill[T2!40] (435,15) rectangle (466,45);\fill[black] (450.5,29) circle (5);\node[anchor=west,inner sep=0,font=\tfs{10.5}{11}] at (472,30) {Gill};
\fill[MU!40] (522,15) rectangle (553,45);\fill[black] (538,22.5)--(531,35)--(545,35)--cycle;\node[anchor=west,inner sep=0,font=\tfs{10.5}{11}] at (562,30) {Mucus};
\fill[T2!40] (1132,16) rectangle (1157,40);\fill[black] (1144.5,27) circle (4);\node[anchor=west,inner sep=0,font=\tfs{8.6}{10}] at (1160,29) {Gill};
\fill[MU!40] (1201,16) rectangle (1226,40);\fill[black] (1213.5,22)--(1208,32)--(1219,32)--cycle;\node[anchor=west,inner sep=0,font=\tfs{8.6}{10}] at (1232,29) {Mucus};
\fill[black] (435,626) circle (5);\node[anchor=west,inner sep=0,font=\tf\tfs{13.5}{14}] at (455,628) {Gill};
\fill[black] (554.5,621)--(548.5,632)--(560.5,632)--cycle;\node[anchor=west,inner sep=0,font=\tf\tfs{13.5}{14}] at (577,628) {Mucus};
\foreach \x/\c/\t in {719/T2/T2,834/T3/T3,949/T4/T4,1075/T5/T5,1192/T6/T6}{
 \fill[fill=\c] (\x,616) rectangle (\x+27,639);\node[anchor=west,inner sep=0,font=\tf\tfs{13.5}{14}] at (\x+37,628) {\t};}
\node[font=\tf\tfs{12.5}{14}] at (247,673) {Bray-Curtis};
\node[font=\tf\tfs{12.5}{14}] at (576,673) {UniFrac};
\node[font=\tf\tfs{12.8}{14}] at (987,675) {Weighted UniFrac};
\foreach \x/\y/\a/\b in {147/1060/0.22/0.04,503/1062/0.24/0.02,894/1063/0.22/0.04}{
 \node[anchor=west,inner sep=0,font=\tf\tfs{6.8}{8}] at (\x,\y) {PERMANOVA:};
 \node[anchor=west,inner sep=0,font=\tf\tfs{6.8}{8}] at (\x,\y+18.5) {Time R\textsuperscript{2}: \a{} (p = 0.001 ***)};
 \node[anchor=west,inner sep=0,font=\tf\tfs{6.8}{8}] at (\x,\y+37) {Type R\textsuperscript{2}: \b{} (p = 0.001 ***)};}
\end{tikzpicture}
\end{document}
